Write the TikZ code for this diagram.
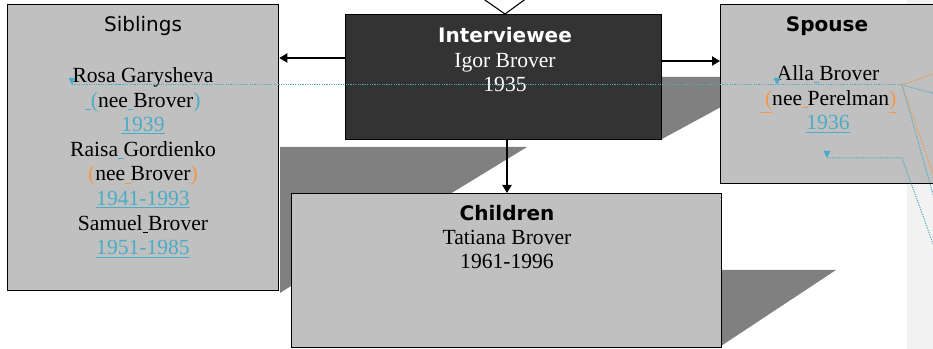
\documentclass[tikz,border=0pt]{standalone}
\usepackage{fontspec}
\setmainfont{Liberation Serif}
\setsansfont{DejaVu Sans}
\usepackage{xcolor}
\usetikzlibrary{arrows.meta, positioning}

\definecolor{boxgray}{HTML}{C0C0C0}
\definecolor{shadowgray}{HTML}{808080}
\definecolor{darkfill}{HTML}{333333}
\definecolor{trackcyan}{HTML}{4BACC6}
\definecolor{trackorange}{HTML}{F79646}
\definecolor{margingray}{HTML}{F2F2F2}

\newcommand{\insc}[1]{{\color{trackcyan}\underline{#1}}}
\newcommand{\inso}[1]{{\color{trackorange}\underline{#1}}}
\newcommand{\tc}[1]{{\color{trackcyan}#1}}
\newcommand{\tor}[1]{{\color{trackorange}#1}}

\tikzset{
  box/.style={draw=black, line width=1pt, fill=boxgray, inner sep=0pt, anchor=north west},
  head/.style={font=\sffamily\fontsize{15}{18}\selectfont, anchor=base, inner sep=0pt},
  headbold/.style={head, font=\sffamily\bfseries\fontsize{15}{18}\selectfont},
  body/.style={font=\fontsize{16.2}{18.5}\selectfont, align=center, anchor=base, inner sep=0pt},
  link/.style={line width=0.8pt, -{Triangle[length=6pt,width=7pt]}},
  track/.style={dash pattern=on 0.9pt off 0.9pt, line width=0.75pt}
}

\begin{document}
\begin{tikzpicture}[x=0.75pt, y=-0.75pt]
  \clip (0,0) rectangle (933,349);
  \fill[margingray] (907,0) rectangle (933,349);
  % shadows
  \fill[shadowgray] (280,147) -- (527,147) -- (450,194) -- (291,194) -- (291,286) -- (280,293) -- cycle;
  \fill[shadowgray] (721,270) -- (836,270) -- (721,346) -- cycle;
  \fill[shadowgray] (660,77) -- (721,77) -- (721,107) -- (662,139) -- cycle;
  % boxes
  \node[box, minimum width=203.25pt, minimum height=214.5pt] (sib) at (7,4) {};
  \node[box, fill=darkfill, minimum width=237pt, minimum height=93.75pt] (ivw) at (345,14) {};
  \node[box, minimum width=165pt, minimum height=134.25pt] (spo) at (720,4) {};
  \node[box, minimum width=322.5pt, minimum height=115.5pt] (kids) at (291,193) {};
  % texts (base = last line)
  \node[head] (sibhead) at (143,32) {Siblings};
  \node[body] (sibtext) at (143,255) {Rosa\insc{\ }Garysheva\\
    \insc{\ }\tc{(}nee\insc{\ }Brover\tc{)}\\
    \insc{1939}\\
    Raisa\insc{\ }Gordienko\\
    \tor{(}nee\inso{\ }Brover\tor{)}\\
    \insc{1941-1993}\\
    Samuel\underline{\ }Brover\\
    \insc{1951-1985}};
  \node[headbold, white] (ivwhead) at (505,43) {Interviewee};
  \node[body, white] (ivwtext) at (505,92) {Igor Brover\\1935};
  \node[headbold] (spohead) at (827,32) {Spouse};
  \node[body] (spotext) at (828,130) {Alla\insc{\ }Brover\\
    \inso{\ (}nee\inso{\ }Perelman\inso{)}\\
    \insc{1936}};
  \node[headbold] (kidshead) at (507,221) {Children};
  \node[body] (kidstext) at (507,269) {Tatiana Brover\\1961-1996};
  % connectors
  \draw[line width=0.8pt] (482,-2) -- (ivw.north -| 505,0) -- (527,-2);
  \draw[link] (ivw.west |- 0,58) -- (sib.east |- 0,58);
  \draw[link] (ivw.east |- 0,61) -- (spo.west |- 0,61);
  \draw[link] (ivw.south -| 507,0) -- (kids.north -| 507,0);
  % tracked changes
  \coordinate (hub) at (902,85);
  \draw[track, trackcyan] (72,85) -- (hub);
  \draw[track, trackorange] (hub) -- (936,73);
  \draw[track, trackcyan] (hub) -- (936,94);
  \draw[track, trackorange] (hub) -- (936,182);
  \draw[track, trackcyan] (hub) -- (936,205);
  \draw[track, trackcyan] (827,158) -- (902,158) -- (936,252);
  \foreach \mx/\my in {72/85, 777/85, 827/158}
    \fill[trackcyan] (\mx-3.5,\my-7) -- (\mx+3.5,\my-7) -- (\mx,\my) -- cycle;
\end{tikzpicture}
\end{document}
